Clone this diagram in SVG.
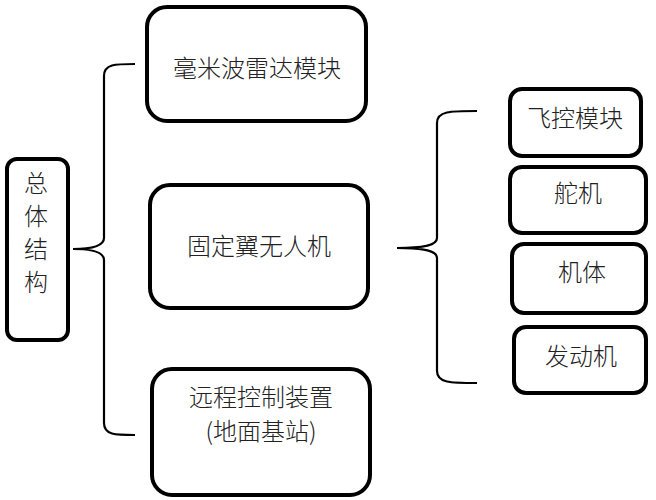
<svg xmlns="http://www.w3.org/2000/svg" width="656" height="500" viewBox="0 0 656 500">
<style>
.box{fill:#fff;stroke:#000;stroke-width:4}
.t{font-family:"Noto Sans CJK SC","Liberation Sans",sans-serif;font-size:24px;font-weight:300;fill:#222;text-anchor:middle}
.br{fill:none;stroke:#000;stroke-width:2.2}
</style>
<rect width="656" height="500" fill="#fff"/>
<g id="connectors">
<path class="br" d="M135,64 C115,64 104,64 104,76 L104,238 C104,246 92,249 73,249 C92,249 104,252 104,260 L104,423 C104,435 115,435 135,435"/>
<path class="br" d="M477,111 C450,111 437,111 437,123 L437,238 C437,245 425,248 397,248 C425,248 437,251 437,258 L437,371 C437,383 450,383 477,383"/>
</g>
<g id="root">
<rect class="box" x="7" y="159" width="61" height="181" rx="10"/>
<text class="t" x="36" y="192">总</text>
<text class="t" x="36" y="225">体</text>
<text class="t" x="36" y="258">结</text>
<text class="t" x="36" y="291">构</text>
</g>
<g id="radar">
<rect class="box" x="147" y="7" width="219" height="114" rx="20"/>
<text class="t" x="257" y="77">毫米波雷达模块</text>
</g>
<g id="uav">
<rect class="box" x="150" y="185" width="218" height="123" rx="20"/>
<text class="t" x="259" y="255">固定翼无人机</text>
</g>
<g id="ground">
<rect class="box" x="152" y="369" width="218" height="126" rx="20"/>
<text class="t" x="261" y="406">远程控制装置</text>
<text class="t" x="261" y="440">(地面基站)</text>
</g>
<g id="flight">
<rect class="box" x="510" y="89" width="131" height="67" rx="12"/>
<text class="t" x="575" y="127">飞控模块</text>
</g>
<g id="servo">
<rect class="box" x="510" y="167" width="136" height="66" rx="12"/>
<text class="t" x="578" y="202">舵机</text>
</g>
<g id="body">
<rect class="box" x="512" y="244" width="134" height="69" rx="12"/>
<text class="t" x="582" y="281">机体</text>
</g>
<g id="engine">
<rect class="box" x="514" y="327" width="132" height="66" rx="12"/>
<text class="t" x="581" y="365">发动机</text>
</g>
</svg>
